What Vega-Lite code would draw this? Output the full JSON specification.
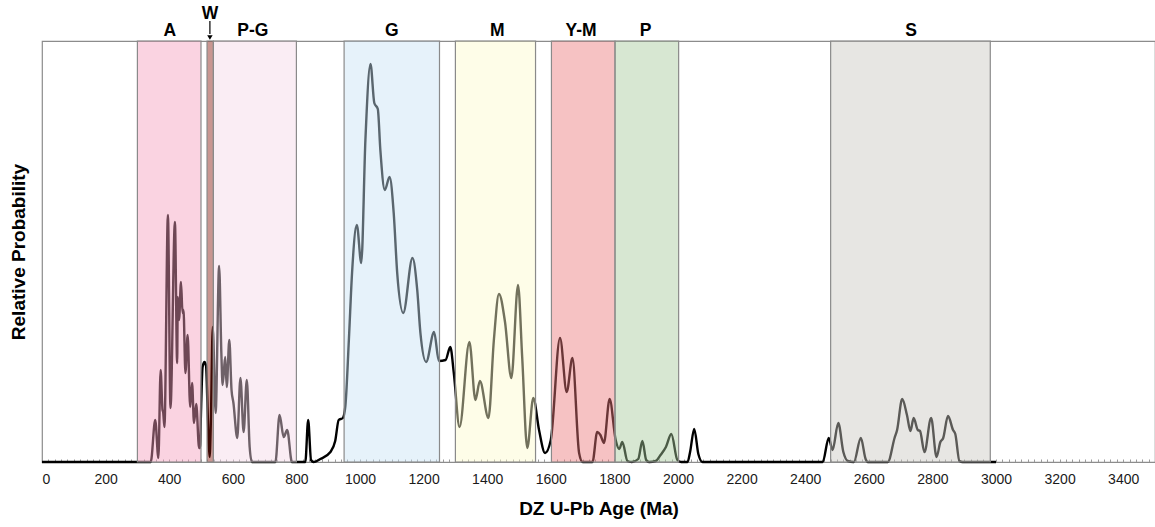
{
  "$schema": "https://vega.github.io/schema/vega-lite/v6.json",
  "width": 1113,
  "height": 421,
  "autosize": {"type": "none"},
  "padding": {"left": 42, "top": 41, "right": 0, "bottom": 65},
  "background": "white",
  "config": {"view": {"stroke": "#8c8c8c", "strokeWidth": 1.2}, "font": "Liberation Sans"},
  "datasets": {
    "pdp": [
      {"age": 0, "p": 0}, {"age": 342, "p": 0}, {"age": 356, "p": 42}, {"age": 366, "p": 4}, {"age": 373, "p": 92},
      {"age": 379, "p": 52}, {"age": 381, "p": 50}, {"age": 385, "p": 35}, {"age": 396, "p": 247}, {"age": 404, "p": 54},
      {"age": 418, "p": 240}, {"age": 425, "p": 99}, {"age": 427, "p": 165}, {"age": 431, "p": 142}, {"age": 437, "p": 180},
      {"age": 442, "p": 149}, {"age": 445, "p": 152}, {"age": 451, "p": 89}, {"age": 458, "p": 127}, {"age": 466, "p": 55},
      {"age": 472, "p": 79}, {"age": 478, "p": 39}, {"age": 485, "p": 58}, {"age": 494, "p": 14}, {"age": 497, "p": 14},
      {"age": 500, "p": 50}, {"age": 505, "p": 95}, {"age": 511, "p": 100}, {"age": 516, "p": 96}, {"age": 520, "p": 60},
      {"age": 524, "p": 20}, {"age": 527, "p": 5}, {"age": 531, "p": 40},
      {"age": 537, "p": 135}, {"age": 546, "p": 49}, {"age": 557, "p": 196}, {"age": 564, "p": 109},
      {"age": 568, "p": 77}, {"age": 576, "p": 105}, {"age": 581, "p": 75}, {"age": 589, "p": 122}, {"age": 596, "p": 72},
      {"age": 602, "p": 59}, {"age": 614, "p": 24}, {"age": 624, "p": 84}, {"age": 634, "p": 30}, {"age": 644, "p": 82},
      {"age": 653, "p": 15}, {"age": 660, "p": 0}, {"age": 734, "p": 0}, {"age": 747, "p": 47}, {"age": 760, "p": 25},
      {"age": 771, "p": 32}, {"age": 786, "p": 0}, {"age": 828, "p": 0}, {"age": 837, "p": 42}, {"age": 846, "p": 2},
      {"age": 854, "p": 0}, {"age": 875, "p": 3}, {"age": 907, "p": 10}, {"age": 922, "p": 21}, {"age": 933, "p": 42},
      {"age": 946, "p": 44}, {"age": 954, "p": 56}, {"age": 965, "p": 122}, {"age": 975, "p": 189}, {"age": 990, "p": 237},
      {"age": 1004, "p": 199}, {"age": 1017, "p": 322}, {"age": 1033, "p": 398}, {"age": 1045, "p": 359}, {"age": 1056, "p": 353},
      {"age": 1064, "p": 312}, {"age": 1078, "p": 272}, {"age": 1093, "p": 285}, {"age": 1106, "p": 249}, {"age": 1117, "p": 189},
      {"age": 1136, "p": 149}, {"age": 1165, "p": 204}, {"age": 1180, "p": 172}, {"age": 1190, "p": 129}, {"age": 1208, "p": 100},
      {"age": 1233, "p": 130}, {"age": 1248, "p": 101}, {"age": 1269, "p": 102}, {"age": 1284, "p": 115}, {"age": 1295, "p": 89},
      {"age": 1313, "p": 35}, {"age": 1344, "p": 120}, {"age": 1363, "p": 62}, {"age": 1377, "p": 81}, {"age": 1404, "p": 44},
      {"age": 1421, "p": 122}, {"age": 1437, "p": 168}, {"age": 1456, "p": 140}, {"age": 1476, "p": 84}, {"age": 1497, "p": 177},
      {"age": 1510, "p": 105}, {"age": 1526, "p": 14}, {"age": 1545, "p": 64}, {"age": 1563, "p": 32}, {"age": 1582, "p": 9},
      {"age": 1600, "p": 22}, {"age": 1629, "p": 124}, {"age": 1650, "p": 70}, {"age": 1668, "p": 104}, {"age": 1689, "p": 9},
      {"age": 1700, "p": 0}, {"age": 1731, "p": 0}, {"age": 1746, "p": 30}, {"age": 1756, "p": 27}, {"age": 1767, "p": 19},
      {"age": 1785, "p": 63}, {"age": 1804, "p": 22}, {"age": 1815, "p": 13}, {"age": 1825, "p": 20}, {"age": 1841, "p": 1},
      {"age": 1855, "p": 0}, {"age": 1875, "p": 3}, {"age": 1888, "p": 21}, {"age": 1900, "p": 2}, {"age": 1909, "p": 0},
      {"age": 1930, "p": 1}, {"age": 1945, "p": 7}, {"age": 1962, "p": 15}, {"age": 1979, "p": 28}, {"age": 1998, "p": 2},
      {"age": 2010, "p": 0}, {"age": 2030, "p": 0}, {"age": 2038, "p": 10}, {"age": 2051, "p": 33}, {"age": 2064, "p": 8},
      {"age": 2077, "p": 0}, {"age": 2455, "p": 0}, {"age": 2474, "p": 24}, {"age": 2486, "p": 12}, {"age": 2504, "p": 39},
      {"age": 2520, "p": 10}, {"age": 2534, "p": 1}, {"age": 2553, "p": 0}, {"age": 2575, "p": 24}, {"age": 2590, "p": 3},
      {"age": 2597, "p": 0}, {"age": 2660, "p": 0}, {"age": 2681, "p": 24}, {"age": 2689, "p": 32}, {"age": 2705, "p": 63},
      {"age": 2720, "p": 47}, {"age": 2731, "p": 31}, {"age": 2741, "p": 44}, {"age": 2754, "p": 32}, {"age": 2761, "p": 31},
      {"age": 2775, "p": 10}, {"age": 2796, "p": 44}, {"age": 2813, "p": 5}, {"age": 2825, "p": 20}, {"age": 2834, "p": 24},
      {"age": 2849, "p": 46}, {"age": 2865, "p": 32}, {"age": 2872, "p": 28}, {"age": 2885, "p": 1}, {"age": 2895, "p": 0},
      {"age": 3000, "p": 0}
    ],
    "bands": [
      {"band": "A", "start": 300, "end": 500},
      {"band": "W", "start": 519, "end": 539},
      {"band": "P-G", "start": 539, "end": 800},
      {"band": "G", "start": 950, "end": 1250},
      {"band": "M", "start": 1300, "end": 1552},
      {"band": "Y-M", "start": 1602, "end": 1802},
      {"band": "P", "start": 1802, "end": 2002},
      {"band": "S", "start": 2480, "end": 2982}
    ],
    "labels": [
      {"label": "A", "pos": 402},
      {"label": "P-G", "pos": 663},
      {"label": "G", "pos": 1100},
      {"label": "M", "pos": 1432},
      {"label": "Y-M", "pos": 1695},
      {"label": "P", "pos": 1898},
      {"label": "S", "pos": 2733}
    ],
    "wlabel": [{"label": "W", "pos": 528}]
  },
  "layer": [
    {
      "data": {"name": "pdp"},
      "mark": {"type": "line", "color": "black", "strokeWidth": 2.4, "interpolate": "monotone"},
      "encoding": {
        "x": {
          "field": "age", "type": "quantitative",
          "scale": {"domain": [0, 3500], "nice": false, "zero": false},
          "axis": {
            "title": "DZ U-Pb Age (Ma)", "tickCount": 175, "format": "d",
            "labelExpr": "datum.value % 200 === 0 ? datum.label : ''",
            "labelOverlap": false, "labelFontSize": 14, "labelColor": "#1a1a1a",
            "labelPadding": 13, "tickColor": "#9a9a9a", "tickSize": -3, "tickWidth": 1,
            "domainColor": "#8c8c8c", "domainWidth": 1.2, "grid": false,
            "titleFontSize": 19, "titleFontWeight": "bold", "titleColor": "black", "titlePadding": 13
          }
        },
        "y": {
          "field": "p", "type": "quantitative",
          "scale": {"domain": [0, 421], "nice": false},
          "axis": {
            "title": "Relative Probability", "labels": false, "ticks": false, "domain": false, "grid": false,
            "titleFontSize": 19, "titleFontWeight": "bold", "titleColor": "black", "titlePadding": 14
          }
        }
      }
    },
    {
      "data": {"name": "bands"},
      "mark": {"type": "rect", "fillOpacity": 0.45, "stroke": "#8a8a8a", "strokeWidth": 1.2, "strokeOpacity": 1},
      "encoding": {
        "x": {"field": "start", "type": "quantitative"},
        "x2": {"field": "end"},
        "color": {
          "field": "band", "type": "nominal", "legend": null,
          "scale": {
            "domain": ["A", "W", "P-G", "G", "M", "Y-M", "P", "S"],
            "range": ["#f39dbd", "#87160a", "#f4d7e7", "#c7e2f4", "#fdfbcc", "#eb787a", "#a6ca9b", "#cac8c1"]
          }
        }
      }
    },
    {
      "data": {"name": "labels"},
      "mark": {"type": "text", "fontWeight": "bold", "fontSize": 17.5, "color": "black", "baseline": "alphabetic"},
      "encoding": {
        "x": {"field": "pos", "type": "quantitative"},
        "y": {"datum": 426},
        "text": {"field": "label"}
      }
    },
    {
      "data": {"name": "wlabel"},
      "layer": [
        {
          "mark": {"type": "text", "fontWeight": "bold", "fontSize": 17.5, "color": "black", "baseline": "alphabetic"},
          "encoding": {"x": {"field": "pos", "type": "quantitative"}, "y": {"datum": 443}, "text": {"field": "label"}}
        },
        {
          "mark": {"type": "rule", "color": "black", "strokeWidth": 1.2},
          "encoding": {"x": {"field": "pos", "type": "quantitative"}, "y": {"datum": 441}, "y2": {"datum": 428}}
        },
        {
          "mark": {"type": "point", "shape": "triangle-down", "filled": true, "color": "black", "opacity": 1, "size": 30},
          "encoding": {"x": {"field": "pos", "type": "quantitative"}, "y": {"datum": 424.5}}
        }
      ]
    }
  ]
}
